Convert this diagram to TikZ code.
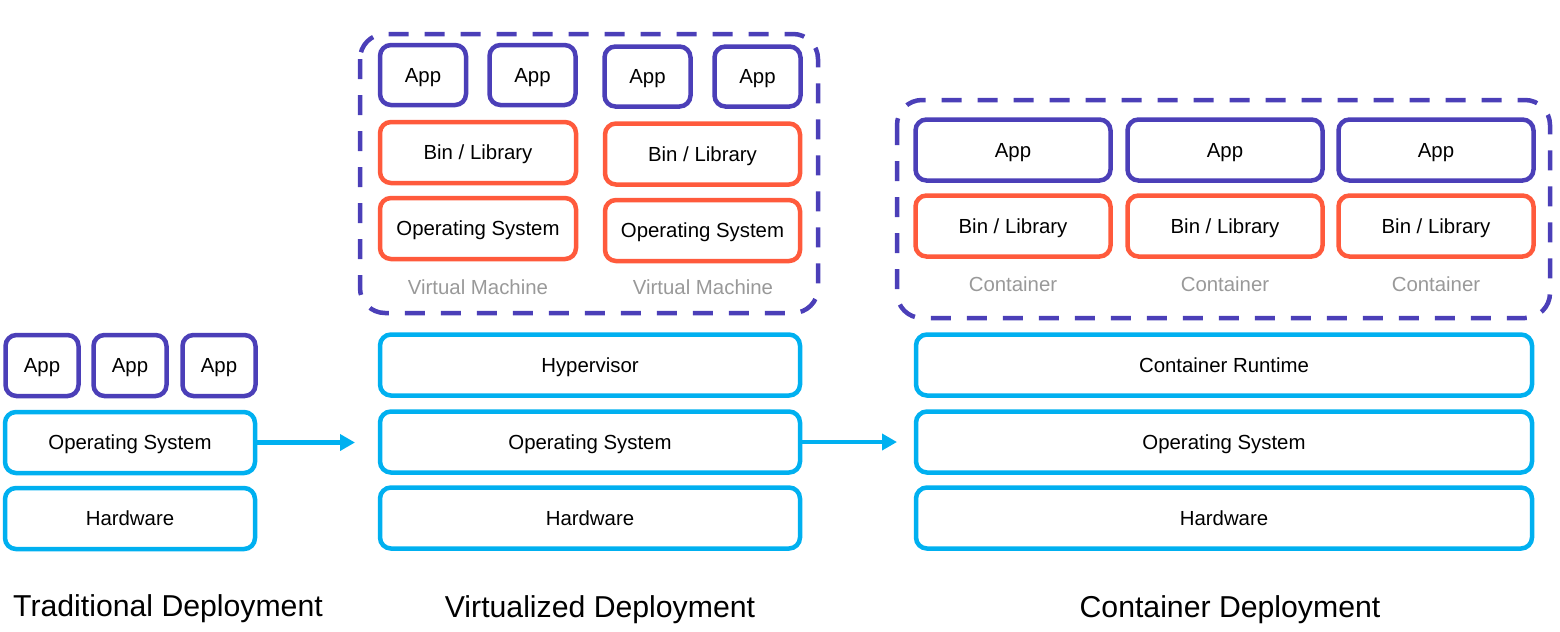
\documentclass[tikz,border=0pt]{standalone}
\usepackage{fontspec}
\setmainfont{Liberation Sans}
\usetikzlibrary{arrows.meta,positioning}
\definecolor{apppurple}{HTML}{4B3FB8}
\definecolor{libred}{HTML}{FF5A3C}
\definecolor{hwblue}{HTML}{00B0F0}
\definecolor{taggray}{HTML}{999999}
\tikzset{
  layer/.style={draw=hwblue, line width=0.45mm, rounded corners=1.1mm, inner sep=0pt,
    minimum height=6.1mm, text height=4.2pt, text depth=0pt, font=\fontsize{5.8}{7}\selectfont},
  appbox/.style={layer, draw=apppurple},
  libbox/.style={layer, draw=libred},
  tag/.style={text=taggray, inner sep=0pt, text height=4.2pt, text depth=0pt, font=\fontsize{5.8}{7}\selectfont},
  group/.style={draw=apppurple, line width=0.45mm, dash pattern=on 2mm off 1.6mm, rounded corners=2.5mm},
  caption/.style={inner sep=0pt, text height=6.2pt, text depth=0pt, font=\fontsize{8.6}{10}\selectfont},
  flow/.style={draw=hwblue, line width=0.45mm, -{Triangle[length=1.5mm,width=1.6mm]}}
}
\begin{document}
\begin{tikzpicture}[x=0.1mm, y=-0.1mm]
  \useasboundingbox (0,0) rectangle (1560,631);
  %traditional deployment
  \foreach \x [count=\i] in {42,130,219}
    \node[appbox, minimum width=7.3mm] (tapp\i) at (\x,365.5) {App};
  \node[layer, minimum width=25mm] (tos) at (130,442.5) {Operating System};
  \node[layer, minimum width=25mm] (thw) at (130,518.5) {Hardware};
  \node[caption] (tcap) at (168,606) {Traditional Deployment};
  %virtualized deployment
  \draw[group] (360,34) rectangle (818,313);
  \foreach \x/\y [count=\i] in {423/75,532.5/75,647.5/76.5,757.5/76.5}
    \node[appbox, minimum width=8.6mm, minimum height=6mm] (vapp\i) at (\x,\y) {App};
  \node[libbox, minimum width=19.6mm] (vbin1) at (478,152.5) {Bin / Library};
  \node[libbox, minimum width=19.5mm] (vbin2) at (702.5,154) {Bin / Library};
  \node[libbox, minimum width=19.6mm] (vguest1) at (478,228.5) {Operating System};
  \node[libbox, minimum width=19.5mm] (vguest2) at (702.5,230.5) {Operating System};
  \node[tag] (vtag1) at (478,287) {Virtual Machine};
  \node[tag] (vtag2) at (703,287) {Virtual Machine};
  \node[layer, minimum width=42mm] (vhyp) at (590,365) {Hypervisor};
  \node[layer, minimum width=42mm] (vos) at (590,442) {Operating System};
  \node[layer, minimum width=42mm] (vhw) at (590,518) {Hardware};
  \node[caption] (vcap) at (600,607) {Virtualized Deployment};
  %container deployment
  \draw[group] (897,100) rectangle (1550,318);
  \foreach \x [count=\i] in {1013,1225,1436} {
    \node[appbox, minimum width=19.5mm] (capp\i) at (\x,150) {App};
    \node[libbox, minimum width=19.5mm] (cbin\i) at (\x,226) {Bin / Library};
    \node[tag] (ctag\i) at (\x,284) {Container};
  }
  \node[layer, minimum width=61.6mm] (crt) at (1224,365) {Container Runtime};
  \node[layer, minimum width=61.6mm] (cos) at (1224,442) {Operating System};
  \node[layer, minimum width=61.6mm] (chw) at (1224,518) {Hardware};
  \node[caption] (ccap) at (1230,607) {Container Deployment};
  %arrows between the stages
  \coordinate (varrow) at (355,442.5);
  \coordinate (carrow) at (897,442);
  \draw[flow] (tos.east) -- (varrow);
  \draw[flow] (vos.east) -- (carrow);
\end{tikzpicture}
\end{document}
